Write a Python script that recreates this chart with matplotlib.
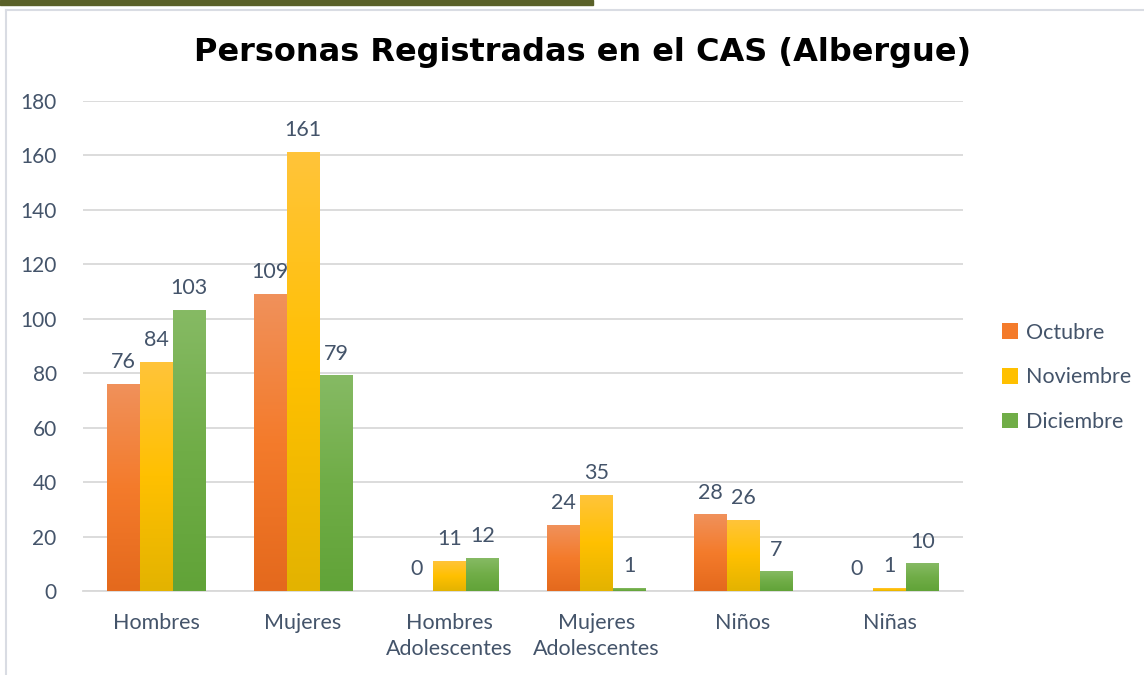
import numpy as np
import matplotlib
matplotlib.use("Agg")
import matplotlib.pyplot as plt
from matplotlib.colors import LinearSegmentedColormap
from matplotlib.patches import Rectangle

# datos
categorias = ["Hombres", "Mujeres", "Hombres\nAdolescentes", "Mujeres\nAdolescentes", "Niños", "Niñas"]
octubre = [76, 109, 0, 24, 28, 0]
noviembre = [84, 161, 11, 35, 26, 1]
diciembre = [103, 79, 12, 1, 7, 10]
meses = ["Octubre", "Noviembre", "Diciembre"]

# colores con degradado (arriba claro, abajo oscuro)
degradados = [
    ["#E4691D", "#F47B2B", "#F0915B"],
    ["#E3B300", "#FFC000", "#FFC43A"],
    ["#61A338", "#70AD47", "#86BA64"],
]
color_texto = "#44546A"

plt.rcParams['font.family'] = ['Lato', 'DejaVu Sans']

fig = plt.figure(figsize=(11.44, 6.75), dpi=100)
ax = fig.add_axes([0.0726, 0.1244, 0.7692, 0.726])

x = np.arange(len(categorias))
ancho = 0.225
series = [octubre, noviembre, diciembre]

for i, valores in enumerate(series):
    desplaz = (i - 1) * ancho
    barras = ax.bar(x + desplaz, valores, ancho, color=degradados[i][1], label=meses[i], zorder=2)
    cmap = LinearSegmentedColormap.from_list("g%d" % i, degradados[i])
    grad = np.linspace(0, 1, 256).reshape(-1, 1)
    for b, v in zip(barras, valores):
        if v <= 0:
            continue
        x0, y0 = b.get_x(), b.get_y()
        ax.imshow(grad, cmap=cmap, origin="lower", aspect="auto",
                  extent=[x0, x0 + b.get_width(), y0, y0 + b.get_height()], zorder=3)
    # etiquetas de datos (incluye los ceros)
    for xx, v in zip(x + desplaz, valores):
        ax.text(xx, v + 4.5, str(v), ha="center", va="bottom",
                fontsize=15.5, color=color_texto, zorder=4)

ax.set_xlim(-0.5, len(categorias) - 0.5)
ax.set_ylim(0, 180)
ax.set_yticks(range(0, 181, 20))
ax.set_xticks(x)
ax.set_xticklabels(categorias, fontsize=15.5, color=color_texto, linespacing=1.35)
ax.tick_params(axis="y", labelsize=15, labelcolor=color_texto, length=0, pad=19)
ax.tick_params(axis="x", length=0, pad=16)
ax.grid(axis="y", color="#D9D9D9", linewidth=1.3, zorder=0)
ax.set_axisbelow(True)
for s in ["top", "right", "left"]:
    ax.spines[s].set_visible(False)
ax.spines["bottom"].set_color("#D9D9D9")
ax.spines["bottom"].set_linewidth(1.3)

fig.text(0.509, 0.922, "Personas Registradas en el CAS (Albergue)", ha="center", va="center",
         fontsize=23, fontweight="bold", family="DejaVu Sans", color="black")

leg = fig.legend(loc="center left", bbox_to_anchor=(0.868, 0.441), frameon=False,
                 fontsize=15.5, labelspacing=1.15, handlelength=0.75, handleheight=0.75,
                 handletextpad=0.4, borderaxespad=0)
for t in leg.get_texts():
    t.set_color(color_texto)

# marco y barra superior
fig.patches.append(Rectangle((0, 0.992), 0.518, 0.008, transform=fig.transFigure,
                             color="#5A6129", zorder=0))
fig.lines.append(plt.Line2D([0.0055, 0.0055], [0, 0.985], transform=fig.transFigure,
                            color="#D9DCE3", linewidth=1.5))
fig.lines.append(plt.Line2D([0.0055, 1], [0.985, 0.985], transform=fig.transFigure,
                            color="#D9DCE3", linewidth=1.5))

fig.savefig("out.png", dpi=100)
